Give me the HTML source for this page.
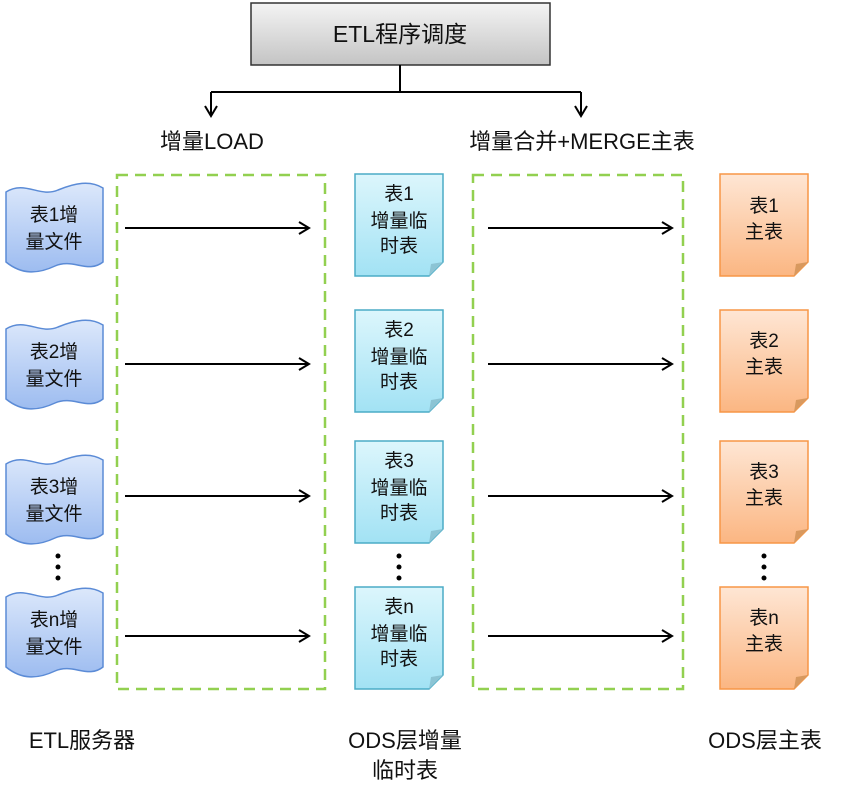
<!DOCTYPE html>
<html><head><meta charset="utf-8"><style>
body{margin:0;background:#fff}
svg{display:block}
text{font-family:"Liberation Sans","Noto Sans CJK SC",sans-serif;fill:#111}
</style></head><body>
<svg width="861" height="799" viewBox="0 0 861 799" xmlns="http://www.w3.org/2000/svg">
<defs>
<linearGradient id="g" x1="0" y1="0" x2="0" y2="1"><stop offset="0" stop-color="#f4f4f4"/><stop offset="1" stop-color="#c4c4c4"/></linearGradient>
<linearGradient id="b" x1="0" y1="0" x2="0" y2="1"><stop offset="0" stop-color="#dce8fb"/><stop offset="1" stop-color="#9dbcf0"/></linearGradient>
<linearGradient id="c" x1="0" y1="0" x2="0" y2="1"><stop offset="0" stop-color="#dcf6fc"/><stop offset="1" stop-color="#a2e2f4"/></linearGradient>
<linearGradient id="o" x1="0" y1="0" x2="0" y2="1"><stop offset="0" stop-color="#fee6d4"/><stop offset="1" stop-color="#fbb682"/></linearGradient>
<marker id="a" markerWidth="14" markerHeight="14" refX="12" refY="7" orient="auto" markerUnits="userSpaceOnUse"><path d="M2,1 L12,7 L2,13" fill="none" stroke="#000" stroke-width="2"/></marker>
</defs>
<rect x="251" y="3" width="299" height="62" fill="url(#g)" stroke="#333" stroke-width="1.5"/>
<text x="400" y="42" font-size="23" text-anchor="middle">ETL程序调度</text>
<path d="M400,65 V92 M211,92 H581" stroke="#000" stroke-width="2" fill="none"/>
<path d="M211,92 V116" stroke="#000" stroke-width="2" marker-end="url(#a)"/>
<path d="M581,92 V116" stroke="#000" stroke-width="2" marker-end="url(#a)"/>
<text x="212" y="149" font-size="22" text-anchor="middle">增量LOAD</text>
<text x="582" y="149" font-size="22" text-anchor="middle">增量合并+MERGE主表</text>
<rect x="117" y="175" width="208" height="514" fill="none" stroke="#92d050" stroke-width="2.5" stroke-dasharray="11,7"/>
<rect x="473" y="175" width="210" height="514" fill="none" stroke="#92d050" stroke-width="2.5" stroke-dasharray="11,7"/>
<g id="rows">
</g>
<!-- left docs -->
<g stroke="#5b8bd6" stroke-width="1.5" fill="url(#b)">
<path d="M6,192 C25,180 40,198 58,190 C75,183 90,180 103,188 V262 C88,274 73,258 55,266 C38,274 22,275 6,262 Z"/>
<path d="M6,329 C25,317 40,335 58,327 C75,320 90,317 103,325 V399 C88,411 73,395 55,403 C38,411 22,412 6,399 Z"/>
<path d="M6,464 C25,452 40,470 58,462 C75,455 90,452 103,460 V534 C88,546 73,530 55,538 C38,546 22,547 6,534 Z"/>
<path d="M6,597 C25,585 40,603 58,595 C75,588 90,585 103,593 V667 C88,679 73,663 55,671 C38,679 22,680 6,667 Z"/>
</g>
<g font-size="19" text-anchor="middle">
<text x="54" y="221">表1增</text><text x="54" y="248">量文件</text>
<text x="54" y="358">表2增</text><text x="54" y="385">量文件</text>
<text x="54" y="493">表3增</text><text x="54" y="520">量文件</text>
<text x="54" y="626">表n增</text><text x="54" y="653">量文件</text>
</g>
<!-- blue notes -->
<g stroke="#4bacc6" stroke-width="1.5" fill="url(#c)">
<path d="M355,174 H443 V262 L429,276 H355 Z"/>
<path d="M355,310 H443 V398 L429,412 H355 Z"/>
<path d="M355,441 H443 V529 L429,543 H355 Z"/>
<path d="M355,587 H443 V675 L429,689 H355 Z"/>
</g>
<g fill="#8cc4d4"><path d="M443,262 L429,276 L431,264 Z"/><path d="M443,398 L429,412 L431,400 Z"/><path d="M443,529 L429,543 L431,531 Z"/><path d="M443,675 L429,689 L431,677 Z"/></g>
<g font-size="19" text-anchor="middle">
<text x="399" y="200">表1</text><text x="399" y="227">增量临</text><text x="399" y="252">时表</text>
<text x="399" y="336">表2</text><text x="399" y="363">增量临</text><text x="399" y="388">时表</text>
<text x="399" y="467">表3</text><text x="399" y="494">增量临</text><text x="399" y="519">时表</text>
<text x="399" y="613">表n</text><text x="399" y="640">增量临</text><text x="399" y="665">时表</text>
</g>
<!-- orange notes -->
<g stroke="#f79646" stroke-width="1.5" fill="url(#o)">
<path d="M720,174 H808 V262 L794,276 H720 Z"/>
<path d="M720,310 H808 V398 L794,412 H720 Z"/>
<path d="M720,441 H808 V529 L794,543 H720 Z"/>
<path d="M720,587 H808 V675 L794,689 H720 Z"/>
</g>
<g fill="#d8995f"><path d="M808,262 L794,276 L796,264 Z"/><path d="M808,398 L794,412 L796,400 Z"/><path d="M808,529 L794,543 L796,531 Z"/><path d="M808,675 L794,689 L796,677 Z"/></g>
<g font-size="19" text-anchor="middle">
<text x="764" y="212">表1</text><text x="764" y="238">主表</text>
<text x="764" y="347">表2</text><text x="764" y="373">主表</text>
<text x="764" y="478">表3</text><text x="764" y="504">主表</text>
<text x="764" y="624">表n</text><text x="764" y="650">主表</text>
</g>
<!-- arrows -->
<g stroke="#000" stroke-width="2" marker-end="url(#a)">
<path d="M125,228 H309"/><path d="M125,364 H309"/><path d="M125,496 H309"/><path d="M125,636 H309"/>
<path d="M488,228 H672"/><path d="M488,364 H672"/><path d="M488,496 H672"/><path d="M488,636 H672"/>
</g>
<!-- dots -->
<g fill="#000">
<circle cx="58" cy="556" r="2.5"/><circle cx="58" cy="567" r="2.5"/><circle cx="58" cy="578" r="2.5"/>
<circle cx="399" cy="556" r="2.5"/><circle cx="399" cy="567" r="2.5"/><circle cx="399" cy="578" r="2.5"/>
<circle cx="764" cy="556" r="2.5"/><circle cx="764" cy="567" r="2.5"/><circle cx="764" cy="578" r="2.5"/>
</g>
<g font-size="22" text-anchor="middle">
<text x="82" y="748">ETL服务器</text>
<text x="405" y="748">ODS层增量</text><text x="405" y="778">临时表</text>
<text x="765" y="748">ODS层主表</text>
</g>
</svg>
</body></html>
